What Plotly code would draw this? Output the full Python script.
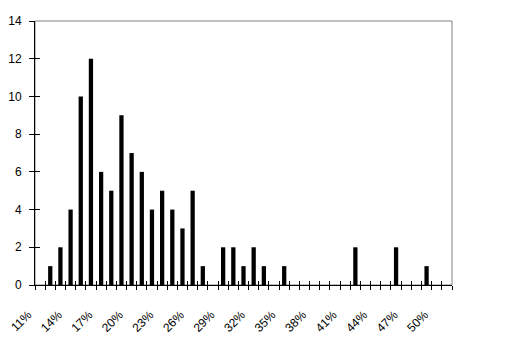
import plotly.graph_objects as go

categories = [f"{p}%" for p in range(11, 52)]
counts = [0, 1, 2, 4, 10, 12, 6, 5, 9, 7, 6, 4, 5, 4, 3, 5, 1, 0, 2, 2, 1, 2, 1, 0, 1,
          0, 0, 0, 0, 0, 0, 2, 0, 0, 0, 2, 0, 0, 1, 0, 0]
tick_labels = [f"{p}%" for p in range(11, 51, 3)]
y_ticks = list(range(0, 15, 2))

xs = [int(c.rstrip('%')) for c in categories]
tick_pos = [int(t.rstrip('%')) for t in tick_labels]

font = dict(family="Liberation Sans, Arial, sans-serif", size=12, color="black")

fig = go.Figure()
fig.add_trace(go.Bar(x=xs, y=counts, marker=dict(color="black", line=dict(width=0)),
                     width=0.42, showlegend=False))
# invisible trace to activate overlay axes
fig.add_trace(go.Scatter(x=[xs[0]], y=[0], xaxis="x2", yaxis="y2", mode="markers",
                         marker=dict(opacity=0), showlegend=False, hoverinfo="skip"))

xr = [xs[0] - 0.5, xs[-1] + 0.5]
fig.update_layout(
    width=514, height=338,
    margin=dict(l=35, r=62, t=21, b=53, autoexpand=False),
    paper_bgcolor="white", plot_bgcolor="white",
    font=font,
    xaxis=dict(range=xr, tickmode="array", tickvals=tick_pos, ticktext=tick_labels,
               tickangle=-45, ticks="", showline=True, linecolor="black", linewidth=1,
               showgrid=False, zeroline=False, tickfont=font, automargin=False,
               ticklabelstandoff=17, ticklabelshift=-12,
               minor=dict(ticks="outside", tickmode="linear", tick0=xr[0], dtick=1,
                          ticklen=4, tickcolor="black", tickwidth=1, showgrid=False)),
    yaxis=dict(range=[0, 14], tickmode="array", tickvals=y_ticks, ticks="outside",
               ticklen=5, tickcolor="black", showline=True, linecolor="black",
               linewidth=1, showgrid=False, zeroline=False, tickfont=font,
               automargin=False, ticklabelstandoff=5),
    xaxis2=dict(overlaying="x", anchor="y", matches="x", range=xr, tickmode="linear",
                tick0=xr[0], dtick=1, ticks="inside", ticklen=4, tickcolor="black",
                showticklabels=False, showgrid=False, zeroline=False, showline=False,
                automargin=False),
    yaxis2=dict(overlaying="y", anchor="x", range=[0, 14], tickmode="linear", tick0=0,
                dtick=2, ticks="inside", ticklen=5, tickcolor="black",
                showticklabels=False, showgrid=False, zeroline=False, showline=False,
                automargin=False),
    shapes=[dict(type="rect", xref="paper", yref="paper", x0=0, y0=0, x1=1, y1=1,
                 line=dict(color="#808080", width=1), layer="below")],
)

fig.write_html("out.html")
